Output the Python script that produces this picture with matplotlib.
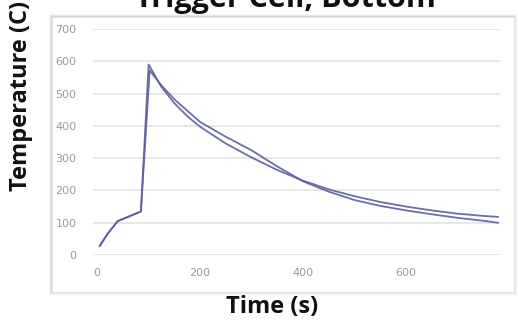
import matplotlib
matplotlib.use("Agg")
import matplotlib.pyplot as plt
from matplotlib.patches import Rectangle

time_a = [5, 20, 40, 60, 85, 102, 110, 125, 150, 175, 200, 250, 300, 350, 400, 450, 500, 550, 600, 650, 700, 750, 778]
temp_a = [28, 65, 105, 118, 135, 572, 555, 525, 482, 447, 412, 366, 324, 274, 228, 196, 170, 152, 138, 126, 115, 106, 100]

time_b = [5, 20, 40, 60, 85, 100, 110, 125, 150, 175, 200, 250, 300, 350, 400, 450, 500, 550, 600, 650, 700, 750, 778]
temp_b = [28, 65, 105, 118, 135, 590, 562, 520, 470, 430, 397, 345, 302, 263, 230, 203, 182, 164, 150, 138, 128, 121, 118]

x_ticks = [0, 200, 400, 600]
y_ticks = [0, 100, 200, 300, 400, 500, 600, 700]

title = "Trigger Cell, Bottom"
xlabel = "Time (s)"
ylabel = "Temperature (C)"

W, H = 518, 325
fig = plt.figure(figsize=(W / 100, H / 100), dpi=100)
fig.patch.set_facecolor("white")

# chart frame with soft shadow (as in the pasted Excel image)
for i, a in enumerate([0.04, 0.06, 0.08]):
    off = (3 - i) / W
    fig.patches.append(Rectangle((52 / W - off, 1 - 292 / H - off * W / H), 462 / W + 2 * off,
                                 275 / H + 2 * off * W / H, transform=fig.transFigure,
                                 facecolor="#000000", alpha=a, edgecolor="none", zorder=0))
fig.patches.append(Rectangle((52 / W, 1 - 292 / H), 462 / W, 275 / H, transform=fig.transFigure,
                             facecolor="white", edgecolor="#e8e8e8", lw=0.8, zorder=0.5))

ax = fig.add_axes([93 / W, 1 - 255 / H, (500 - 93) / W, (255 - 29) / H])
ax.set_zorder(2)
ax.set_facecolor("none")
line_color = "#5c5f9c"
ax.plot(time_a, temp_a, color=line_color, lw=1.3, alpha=0.9)
ax.plot(time_b, temp_b, color=line_color, lw=1.3, alpha=0.9)

ax.set_xlim(-8, 782)
ax.set_ylim(0, 700)
ax.set_xticks(x_ticks)
ax.set_yticks(y_ticks)
ax.grid(axis="y", color="#e3e3e3", lw=1.2)
ax.set_axisbelow(True)
for s in ax.spines.values():
    s.set_visible(False)
ax.tick_params(length=0, labelsize=8, labelcolor="#9a9a9a", pad=6)
ax.tick_params(axis="y", pad=12)
ax.tick_params(axis="x", pad=9)

fig.text(21 / W, 1 - 96 / H, ylabel, rotation=90, ha="center", va="center",
         fontsize=17, fontweight="bold", family="Open Sans", color="#111111", zorder=3)
fig.text(272 / W, 1 - 307 / H, xlabel, ha="center", va="center",
         fontsize=17, fontweight="bold", family="Open Sans", color="#111111", zorder=3)
fig.text(285 / W, 1 - 7 / H, title, ha="center", va="baseline",
         fontsize=22, fontweight="bold", family="Open Sans", color="#111111", zorder=3)

fig.savefig("out.png", dpi=100, facecolor="white")
